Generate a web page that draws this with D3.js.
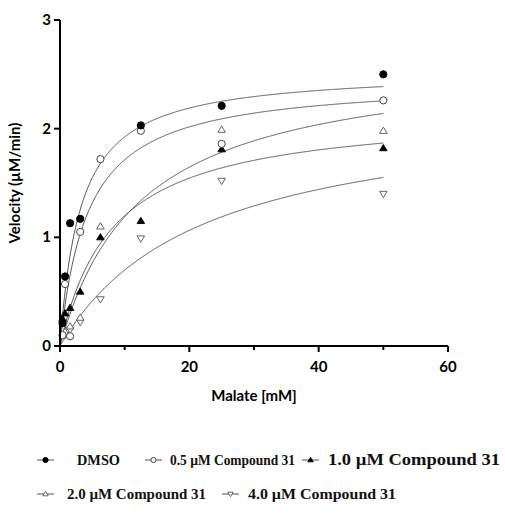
<!DOCTYPE html>
<html><head><meta charset="utf-8">
<script src="https://cdn.jsdelivr.net/npm/d3@7"></script>
<style>body{margin:0;background:#fff}</style>
</head><body>
<svg id="c" width="505" height="513"></svg>
<script>
const concentrations = [0.39, 0.78, 1.56, 3.125, 6.25, 12.5, 25, 50];
const seriesNames = ["DMSO", "0.5 \u00b5M Compound 31", "1.0 \u00b5M Compound 31", "2.0 \u00b5M Compound 31", "4.0 \u00b5M Compound 31"];
const dmso   = [0.21, 0.64, 1.13, 1.17, null, 2.03, 2.21, 2.50];
const c05    = [0.10, 0.57, 0.09, 1.05, 1.72, 1.98, 1.86, 2.26];
const c10    = [0.25, 0.30, 0.35, 0.50, 1.00, 1.15, 1.81, 1.82];
const c20    = [null, 0.13, 0.18, 0.26, 1.10, null, 1.99, 1.98];
const c40    = [null, 0.10, 0.15, 0.22, 0.43, 0.99, 1.52, 1.40];
const fitVmax = [2.54, 2.45, 2.17, 2.675, 2.23];
const fitKm   = [3.2, 4.3, 8.1, 12.5, 21.9];
const markers = ["circleFilled", "circleOpen", "triUpFilled", "triUpOpen", "triDownOpen"];
const xTicks = [0, 20, 40, 60];
const xMinorTicks = [10, 30, 50];
const yTicks = [0, 1, 2, 3];

const values = [dmso, c05, c10, c20, c40];
const svg = d3.select("#c");
const x = d3.scaleLinear().domain([0, 60]).range([60, 448]);
const y = d3.scaleLinear().domain([0, 3]).range([346, 20]);

function drawMarker(g, type, cx, cy, s) {
  if (type.startsWith("circle")) {
    g.append("circle").attr("cx", cx).attr("cy", cy).attr("r", s)
      .attr("fill", type === "circleFilled" ? "#000" : "#fff")
      .attr("stroke", type === "circleFilled" ? "#000" : "#444").attr("stroke-width", 1);
  } else {
    const up = type.startsWith("triUp");
    const h = s * 1.75, w = s * 1.05;
    const pts = up
      ? [[cx, cy - h * 0.6], [cx - w, cy + h * 0.4], [cx + w, cy + h * 0.4]]
      : [[cx, cy + h * 0.6], [cx - w, cy - h * 0.4], [cx + w, cy - h * 0.4]];
    g.append("polygon").attr("points", pts.map(p => p.join(",")).join(" "))
      .attr("fill", type.endsWith("Filled") ? "#000" : "#fff")
      .attr("stroke", type.endsWith("Filled") ? "#000" : "#555").attr("stroke-width", 0.9);
  }
}

// fitted curves
const line = d3.line().x(d => x(d[0])).y(d => y(d[1]));
fitVmax.forEach((vm, i) => {
  const km = fitKm[i];
  const pts = d3.range(0, 50.001, 0.1).map(s => [s, vm * s / (km + s)]);
  svg.append("path").attr("d", line(pts)).attr("fill", "none")
    .attr("stroke", "#555").attr("stroke-width", 1);
});

// points (draw lower series first so DMSO on top)
const gp = svg.append("g");
[4, 3, 2, 1, 0].forEach(i => {
  values[i].forEach((v, j) => {
    if (v == null) return;
    drawMarker(gp, markers[i], x(concentrations[j]), y(v), 3.6);
  });
});

// axes
const ax = svg.append("g").attr("stroke", "#000").attr("stroke-width", 2);
ax.append("line").attr("x1", x(0)).attr("x2", x(60)).attr("y1", y(0)).attr("y2", y(0));
ax.append("line").attr("x1", x(0)).attr("x2", x(0)).attr("y1", y(0)).attr("y2", y(3));
xTicks.forEach(t => ax.append("line").attr("x1", x(t)).attr("x2", x(t)).attr("y1", y(0)).attr("y2", y(0) + 6));
xMinorTicks.forEach(t => ax.append("line").attr("x1", x(t)).attr("x2", x(t)).attr("y1", y(0)).attr("y2", y(0) + 4));
yTicks.forEach(t => ax.append("line").attr("x1", x(0) - 6).attr("x2", x(0)).attr("y1", y(t)).attr("y2", y(t)));

const font = "Lato, 'Open Sans', sans-serif";
xTicks.forEach(t => svg.append("text").attr("x", x(t)).attr("y", y(0) + 26)
  .attr("text-anchor", "middle").attr("font-family", font).attr("font-weight", "bold")
  .attr("font-size", 15).text(t));
yTicks.forEach(t => svg.append("text").attr("x", x(0) - 9).attr("y", y(t) + 5)
  .attr("text-anchor", "end").attr("font-family", font).attr("font-weight", "bold")
  .attr("font-size", 15).text(t));

svg.append("text").attr("x", 254).attr("y", 401).attr("text-anchor", "middle")
  .attr("font-family", font).attr("font-weight", "bold").attr("font-size", 15).text("Malate [mM]");
svg.append("text").attr("transform", "translate(20,183) rotate(-90)").attr("text-anchor", "middle")
  .attr("font-family", font).attr("font-weight", "bold").attr("font-size", 15).text("Velocity (\u00b5M/min)");

// legend
const legendPos = [[37, 460], [145, 460], [302, 460], [37, 494], [222, 494]];
const legendTextX = [77, 170, 328, 67, 248];
const legendSize = [14, 14.5, 16, 15, 15.5];
const legendLen = [43, 125, 172, 139, 148];
seriesNames.forEach((n, i) => {
  const [lx, ly] = legendPos[i];
  svg.append("line").attr("x1", lx).attr("x2", lx + 17).attr("y1", ly).attr("y2", ly)
    .attr("stroke", "#555").attr("stroke-width", 1);
  drawMarker(svg, markers[i], lx + 8.5, ly, 2.6);
  svg.append("text").attr("x", legendTextX[i]).attr("y", ly + 5)
    .attr("font-family", "'Liberation Serif', 'Times New Roman', serif").attr("font-weight", "bold")
    .attr("font-size", legendSize[i]).attr("textLength", legendLen[i]).attr("lengthAdjust", "spacingAndGlyphs")
    .attr("fill", "#111").text(n);
});
</script>
</body></html>
